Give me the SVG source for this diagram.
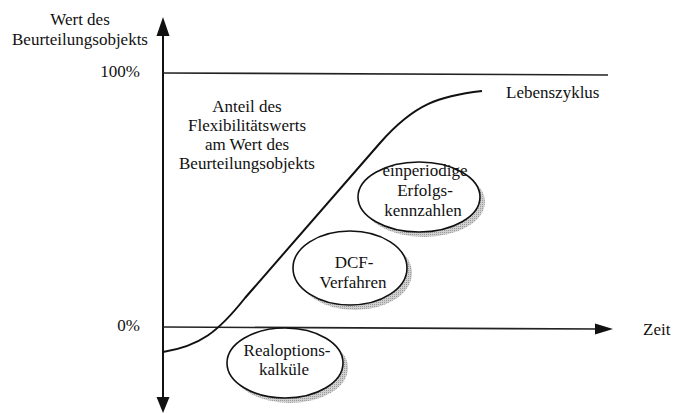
<svg xmlns="http://www.w3.org/2000/svg" width="673" height="413" viewBox="0 0 673 413">
  <style>
    .m { text-anchor: middle; }
    .e { text-anchor: end; }
    .ax { stroke: #111; stroke-width: 2; fill: none; }
    .ref { stroke: #222; stroke-width: 1.6; fill: none; }
    .curve { stroke: #111; stroke-width: 2; fill: none; }
    .node { fill: #fff; stroke: #111; stroke-width: 1.6; }
    .shadow { fill: url(#dots); }
  </style>
  <defs>
    <pattern id="dots" width="2" height="2" patternUnits="userSpaceOnUse">
      <rect width="2" height="2" fill="#d0d0d0"/>
      <rect width="1" height="1" fill="#9a9a9a"/>
    </pattern>
  </defs>
  <rect width="673" height="413" fill="#fff"/>

  <g id="connectors">
    <line class="ax" x1="163" y1="30" x2="163" y2="400"/>
    <polygon points="163,17 156.5,36 169.5,36" fill="#111"/>
    <polygon points="163,413 156.5,397 169.5,397" fill="#111"/>
    <line class="ref" x1="163" y1="73" x2="608" y2="75"/>
    <line class="ref" x1="163" y1="327" x2="600" y2="329"/>
    <polygon points="613,329 595,323.5 595,334.5" fill="#111"/>
    <path class="curve" d="M163,352 C200,346 218,332 245,298 L380,143 C415,103 440,96 482,91"/>
  </g>

  <g id="axis-labels" font-family="Liberation Serif" font-size="17" fill="#111">
    <text class="m" x="80" y="25">Wert des</text>
    <text class="m" x="80" y="45">Beurteilungsobjekts</text>
    <text class="e" x="140" y="77">100%</text>
    <text class="e" x="140" y="331">0%</text>
    <text x="643" y="335">Zeit</text>
    <text x="506" y="98">Lebenszyklus</text>
  </g>

  <g id="anteil-label" font-family="Liberation Serif" font-size="17" fill="#111">
    <text class="m" x="247" y="112">Anteil des</text>
    <text class="m" x="247" y="131">Flexibilitätswerts</text>
    <text class="m" x="247" y="150">am Wert des</text>
    <text class="m" x="247" y="169">Beurteilungsobjekts</text>
  </g>

  <g id="node-einperiodig" font-family="Liberation Serif" font-size="17" fill="#111">
    <ellipse class="shadow" cx="424" cy="202" rx="61" ry="35"/>
    <ellipse class="node" cx="419" cy="197" rx="61" ry="35"/>
    <text class="m" x="425" y="176">einperiodige</text>
    <text class="m" x="425" y="196">Erfolgs-</text>
    <text class="m" x="423" y="216">kennzahlen</text>
  </g>

  <g id="node-dcf" font-family="Liberation Serif" font-size="17" fill="#111">
    <ellipse class="shadow" cx="355" cy="273" rx="57" ry="37"/>
    <ellipse class="node" cx="350" cy="268" rx="57" ry="37"/>
    <text class="m" x="354" y="268">DCF-</text>
    <text class="m" x="353" y="288">Verfahren</text>
  </g>

  <g id="node-realoptionen" font-family="Liberation Serif" font-size="17" fill="#111">
    <ellipse class="shadow" cx="290" cy="368" rx="58" ry="35"/>
    <ellipse class="node" cx="285" cy="363" rx="58" ry="35"/>
    <text class="m" x="287" y="356">Realoptions-</text>
    <text class="m" x="284" y="375">kalküle</text>
  </g>
</svg>
